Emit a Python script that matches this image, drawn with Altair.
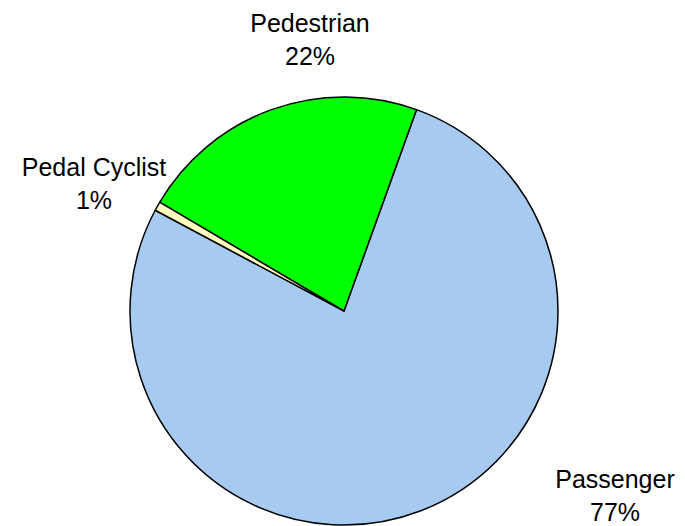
import altair as alt
import pandas as pd
import math

categories = ["Passenger", "Pedal Cyclist", "Pedestrian"]
values = [77.3, 0.7, 22.0]
colors = ["#A6CAF0", "#FFFFC0", "#00FF00"]
order = [0, 1, 2]

df = pd.DataFrame({"category": categories, "value": values, "order": order})

start = math.radians(19.8)

pie = alt.Chart(df).mark_arc(stroke="black", strokeWidth=1.5, radius=214).encode(
    theta=alt.Theta("value:Q", stack=True, scale=alt.Scale(range=[start, start + 2 * math.pi])),
    order=alt.Order("order:Q"),
    color=alt.Color("category:N", scale=alt.Scale(domain=categories, range=colors), legend=None),
    x=alt.value(336),
    y=alt.value(303),
)

label_pos = {"Passenger": (607, 479.5), "Pedal Cyclist": (86, 167.5), "Pedestrian": (302, 23.5)}

layers = [pie]
for cat in categories:
    px, py = label_pos[cat]
    t = alt.Chart(df).transform_filter(alt.datum.category == cat).transform_calculate(
        label="[datum.category, format(datum.value / 100, '.0%')]"
    ).mark_text(
        font="Liberation Sans", fontSize=25, lineHeight=33, align="center", baseline="alphabetic", color="black"
    ).encode(text="label:N", x=alt.value(px), y=alt.value(py))
    layers.append(t)

chart = alt.layer(*layers).properties(width=669, height=518, padding=0, autosize="none").configure_view(stroke=None)

chart.save("out.html", embed_options={"renderer": "svg", "actions": False})
